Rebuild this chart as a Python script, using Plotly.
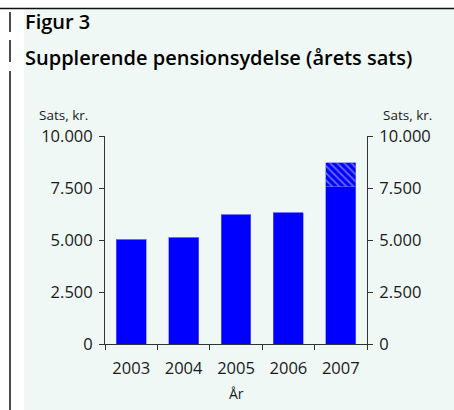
import plotly.graph_objects as go

years = ["2003", "2004", "2005", "2006", "2007"]
base_values = [5030, 5130, 6210, 6310, 7555]
extra_values = [0, 0, 0, 0, 1170]
y_ticks = [0, 2500, 5000, 7500, 10000]

W, H = 454, 410
L, R, T, B = 105, 87, 136, 66
PW, PH = W - L - R, H - T - B

def px(x):
    return (x - L) / PW

def py(y):
    return (H - B - y) / PH

FONT = "Open Sans"
BLUE = "#0000ff"

fig = go.Figure()
fig.add_trace(go.Bar(x=years, y=base_values, marker=dict(color=BLUE, line=dict(color="#6f6fff", width=0.6)),
                     width=0.57, showlegend=False, hoverinfo="skip"))
fig.add_trace(go.Bar(x=years, y=extra_values,
                     marker=dict(color=BLUE, line=dict(color="#6f6fff", width=0.6),
                                 pattern=dict(shape="\\", fgcolor="#ccccff", bgcolor=BLUE, size=5, solidity=0.35)),
                     width=0.57, showlegend=False, hoverinfo="skip"))
fig.add_trace(go.Scatter(x=years, y=base_values, yaxis="y2", mode="markers", marker=dict(opacity=0),
                         showlegend=False, hoverinfo="skip"))

axis_common = dict(range=[0, 10000], tickvals=y_ticks, ticks="outside", ticklen=5, tickwidth=1,
                   tickcolor="#333", showline=True, linecolor="#333", linewidth=1, showgrid=False,
                   zeroline=False, tickfont=dict(family=FONT, size=16.5, color="#1a1a1a"), tickformat=",d",
                   automargin=False, ticklabelstandoff=3)

fig.update_layout(
    width=W, height=H,
    margin=dict(l=L, r=R, t=T, b=B),
    paper_bgcolor="white", plot_bgcolor="rgba(0,0,0,0)",
    barmode="stack", bargap=0.43,
    separators=",.",
    xaxis=dict(type="category", ticks="outside", tickson="boundaries", ticklen=5, tickcolor="#333",
               showline=True, linecolor="#333", linewidth=1, showgrid=False, automargin=False,
               tickfont=dict(family=FONT, size=16.5, color="#1a1a1a"), ticklabelstandoff=9),
    yaxis=dict(**axis_common),
    yaxis2=dict(**axis_common, overlaying="y", side="right", matches="y"),
    shapes=[
        dict(type="rect", xref="paper", yref="paper", x0=px(24), x1=px(W + 2), y0=py(9), y1=py(H + 2),
             fillcolor="#f0f8f5", line=dict(width=0), layer="below"),
        dict(type="line", xref="paper", yref="paper", x0=px(0), x1=px(W), y0=py(8.5), y1=py(8.5),
             line=dict(color="#111", width=1.5)),
        dict(type="line", xref="paper", yref="paper", x0=px(10), x1=px(10), y0=py(12), y1=py(32),
             line=dict(color="#111", width=1.5)),
        dict(type="line", xref="paper", yref="paper", x0=px(10), x1=px(10), y0=py(40), y1=py(62),
             line=dict(color="#111", width=1.5)),
        dict(type="line", xref="paper", yref="paper", x0=px(10), x1=px(10), y0=py(71), y1=py(H + 2),
             line=dict(color="#111", width=1.5)),
    ],
    annotations=[
        dict(text="Figur 3", xref="paper", yref="paper", x=px(23), y=py(21), xanchor="left",
             yanchor="middle", showarrow=False, font=dict(family=FONT, size=20, color="#000", weight=600)),
        dict(text="Supplerende pensionsydelse (årets sats)", xref="paper", yref="paper", x=px(23),
             y=py(57), xanchor="left", yanchor="middle", showarrow=False,
             font=dict(family=FONT, size=20, color="#000", weight=600)),
        dict(text="Sats, kr.", xref="paper", yref="paper", x=px(90), y=py(115), xanchor="right",
             yanchor="middle", showarrow=False, font=dict(family=FONT, size=13.5, color="#1a1a1a")),
        dict(text="Sats, kr.", xref="paper", yref="paper", x=px(381), y=py(115), xanchor="left",
             yanchor="middle", showarrow=False, font=dict(family=FONT, size=13.5, color="#1a1a1a")),
        dict(text="År", xref="paper", yref="paper", x=px(236), y=py(393), xanchor="center",
             yanchor="middle", showarrow=False, font=dict(family=FONT, size=14, color="#1a1a1a")),
    ],
)

fig.write_html("out.html", config={"displayModeBar": False},
               post_script="document.body.style.margin='0';document.body.style.overflow='hidden';")
